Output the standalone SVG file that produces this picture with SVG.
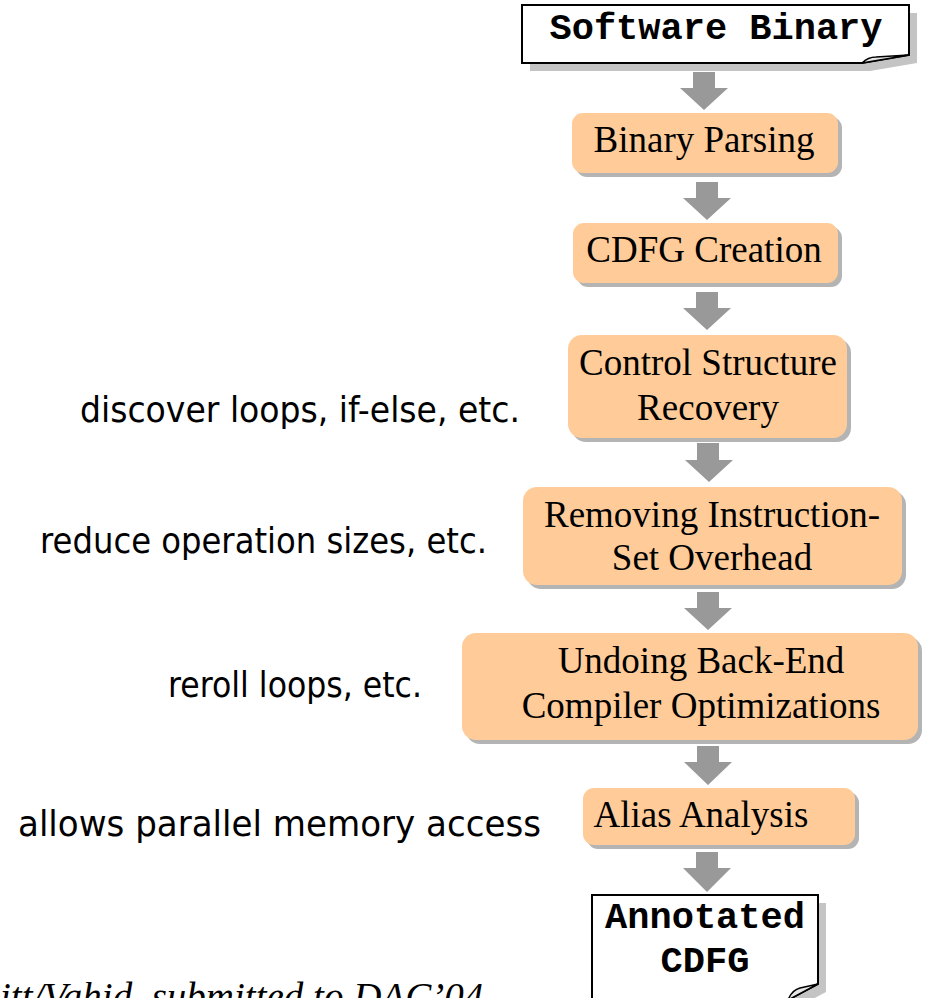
<svg xmlns="http://www.w3.org/2000/svg" width="926" height="998" viewBox="0 0 926 998">
<defs>
<style>
.box{fill:#ffcc99;}
.sh{fill:#b4b4b4;}
.dsh{fill:#c4c4c4;}
.doc{fill:#ffffff;stroke:#000000;stroke-width:2;}
.fold{fill:#e6e6e6;stroke:#000000;stroke-width:1.5;stroke-linejoin:round;}
.arr{fill:#999999;}
.t{font-family:"Liberation Serif","Times New Roman",serif;font-size:37px;fill:#000;text-anchor:middle;}
.m{font-family:"Liberation Mono","Courier New",monospace;font-size:37px;font-weight:bold;fill:#000;text-anchor:middle;}
.l{font-family:"DejaVu Sans",Tahoma,sans-serif;font-size:36px;fill:#000;}
.f{font-family:"Liberation Serif","Times New Roman",serif;font-size:39px;font-style:italic;fill:#000;}
</style>
</defs>
<rect width="926" height="998" fill="#ffffff"/>

<g id="software-binary">
<path class="dsh" d="M530,13 H917 V63 L870,71 H530 Z"/>
<path class="doc" d="M522,5 H909 V55 L862,63 H522 Z"/>
<path class="fold" d="M862,63 Q868,57 876,57 L909,55 Z"/>
<text class="m" x="716" y="39">Software Binary</text>
</g>

<g id="binary-parsing">
<rect class="sh" x="576" y="117" width="266" height="60" rx="11"/>
<rect class="box" x="572" y="113" width="266" height="60" rx="11"/>
<text class="t" x="704" y="152">Binary Parsing</text>
</g>

<g id="cdfg-creation">
<rect class="sh" x="577" y="227" width="265" height="60" rx="11"/>
<rect class="box" x="573" y="223" width="265" height="60" rx="11"/>
<text class="t" x="704" y="262">CDFG Creation</text>
</g>

<g id="control-structure-recovery">
<rect class="sh" x="572" y="339" width="279" height="103" rx="14"/>
<rect class="box" x="568" y="335" width="279" height="103" rx="14"/>
<text class="t" x="708" y="375">Control Structure</text>
<text class="t" x="708" y="420">Recovery</text>
</g>

<g id="removing-overhead">
<rect class="sh" x="527" y="491" width="379" height="98" rx="14"/>
<rect class="box" x="523" y="487" width="379" height="98" rx="14"/>
<text class="t" x="712" y="527">Removing Instruction-</text>
<text class="t" x="712" y="570">Set Overhead</text>
</g>

<g id="undoing-optimizations">
<rect class="sh" x="466" y="637" width="456" height="107" rx="14"/>
<rect class="box" x="462" y="633" width="456" height="107" rx="14"/>
<text class="t" x="701" y="673">Undoing Back-End</text>
<text class="t" x="701" y="718">Compiler Optimizations</text>
</g>

<g id="alias-analysis">
<rect class="sh" x="587" y="792" width="272" height="57" rx="11"/>
<rect class="box" x="583" y="788" width="272" height="57" rx="11"/>
<text class="t" x="701" y="827">Alias Analysis</text>
</g>

<g id="annotated-cdfg">
<path class="dsh" d="M600,903 H826 V992 L796,1008 H600 Z"/>
<path class="doc" d="M592,895 H818 V984 L788,1000 H592 Z"/>
<path class="fold" d="M788,1000 Q792,990 800,988 L818,984 Z"/>
<text class="m" x="705" y="928">Annotated</text>
<text class="m" x="705" y="972">CDFG</text>
</g>

<g id="connectors">
<path class="arr" d="M693,72 H715 V88 H728 L704,110 L680,88 H693 Z"/>
<path class="arr" d="M696,182 H718 V198 H731 L707,220 L683,198 H696 Z"/>
<path class="arr" d="M696,292 H718 V308 H731 L707,330 L683,308 H696 Z"/>
<path class="arr" d="M697,443 H719 V460 H733 L709,482 L685,460 H697 Z"/>
<path class="arr" d="M697,592 H719 V608 H732 L708,630 L684,608 H697 Z"/>
<path class="arr" d="M697,746 H719 V762 H732 L708,785 L684,762 H697 Z"/>
<path class="arr" d="M696,852 H718 V868 H731 L707,892 L683,868 H696 Z"/>
</g>

<g id="labels">
<text class="l" x="80" y="422" textLength="440" lengthAdjust="spacingAndGlyphs">discover loops, if-else, etc.</text>
<text class="l" x="40" y="553" textLength="447" lengthAdjust="spacingAndGlyphs">reduce operation sizes, etc.</text>
<text class="l" x="168" y="697" textLength="254" lengthAdjust="spacingAndGlyphs">reroll loops, etc.</text>
<text class="l" x="18" y="836" textLength="523" lengthAdjust="spacingAndGlyphs">allows parallel memory access</text>
</g>

<text class="f" x="0" y="1010">itt/Vahid, submitted to DAC’04</text>
</svg>
